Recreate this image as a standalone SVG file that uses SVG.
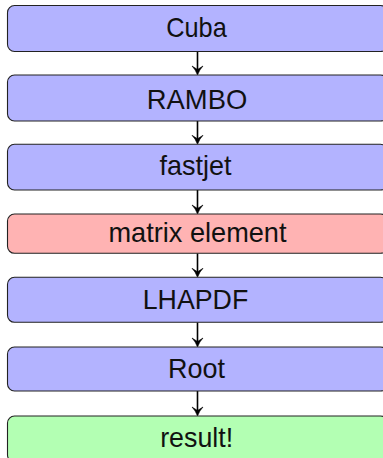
<svg xmlns="http://www.w3.org/2000/svg" width="383" height="458" viewBox="0 0 383 458">
<defs>
<style>
.box{stroke:#222;stroke-width:1.1}
.blue{fill:#b3b3ff}
.red{fill:#ffb3b3}
.green{fill:#b3ffb3}
.lbl{font-family:"Liberation Sans",Arial,sans-serif;font-size:28px;fill:#111;text-anchor:middle}
.edge{stroke:#000;stroke-width:1.6;fill:none}
.head{fill:#000;stroke:#000;stroke-width:0.6;stroke-linejoin:round}
</style>
</defs>
<rect width="383" height="458" fill="#fff"/>
<g id="connectors">
<line class="edge" x1="197.5" y1="51.5" x2="197.5" y2="71"/>
<path class="head" transform="translate(197.5,75)" d="M0,0 Q-2,-5.5 -5.5,-9 L0,-5.5 L5.5,-9 Q2,-5.5 0,0 Z"/>
<line class="edge" x1="197.5" y1="121" x2="197.5" y2="140"/>
<path class="head" transform="translate(197.5,144.3)" d="M0,0 Q-2,-5.5 -5.5,-9 L0,-5.5 L5.5,-9 Q2,-5.5 0,0 Z"/>
<line class="edge" x1="197.5" y1="190" x2="197.5" y2="210"/>
<path class="head" transform="translate(197.5,214)" d="M0,0 Q-2,-5.5 -5.5,-9 L0,-5.5 L5.5,-9 Q2,-5.5 0,0 Z"/>
<line class="edge" x1="197.5" y1="253.3" x2="197.5" y2="273"/>
<path class="head" transform="translate(197.5,277.3)" d="M0,0 Q-2,-5.5 -5.5,-9 L0,-5.5 L5.5,-9 Q2,-5.5 0,0 Z"/>
<line class="edge" x1="197.5" y1="322.3" x2="197.5" y2="343"/>
<path class="head" transform="translate(197.5,347)" d="M0,0 Q-2,-5.5 -5.5,-9 L0,-5.5 L5.5,-9 Q2,-5.5 0,0 Z"/>
<line class="edge" x1="197.5" y1="391" x2="197.5" y2="412"/>
<path class="head" transform="translate(197.5,416)" d="M0,0 Q-2,-5.5 -5.5,-9 L0,-5.5 L5.5,-9 Q2,-5.5 0,0 Z"/>
</g>
<g id="cuba">
<rect class="box blue" x="7.5" y="5.5" width="380" height="46" rx="7"/>
<text class="lbl" x="196.5" y="37.3" textLength="60.5" lengthAdjust="spacingAndGlyphs">Cuba</text>
</g>
<g id="rambo">
<rect class="box blue" x="7.5" y="75" width="380" height="46" rx="7"/>
<text class="lbl" x="197" y="109.3" textLength="100.5" lengthAdjust="spacingAndGlyphs">RAMBO</text>
</g>
<g id="fastjet">
<rect class="box blue" x="7.5" y="144.3" width="380" height="45.7" rx="7"/>
<text class="lbl" x="195.5" y="174.7" textLength="72" lengthAdjust="spacingAndGlyphs">fastjet</text>
</g>
<g id="matrix">
<rect class="box red" x="7.5" y="214" width="380" height="39.3" rx="7"/>
<text class="lbl" x="197.5" y="242.3" textLength="178" lengthAdjust="spacingAndGlyphs">matrix element</text>
</g>
<g id="lhapdf">
<rect class="box blue" x="7.5" y="277.3" width="380" height="45" rx="7"/>
<text class="lbl" x="195.5" y="309.3" textLength="105.5" lengthAdjust="spacingAndGlyphs">LHAPDF</text>
</g>
<g id="root">
<rect class="box blue" x="7.5" y="347" width="380" height="44" rx="7"/>
<text class="lbl" x="196.5" y="378.3" textLength="57" lengthAdjust="spacingAndGlyphs">Root</text>
</g>
<g id="result">
<rect class="box green" x="7.5" y="416" width="380" height="46" rx="7"/>
<text class="lbl" x="196.7" y="446.7" textLength="73" lengthAdjust="spacingAndGlyphs">result!</text>
</g>
</svg>
